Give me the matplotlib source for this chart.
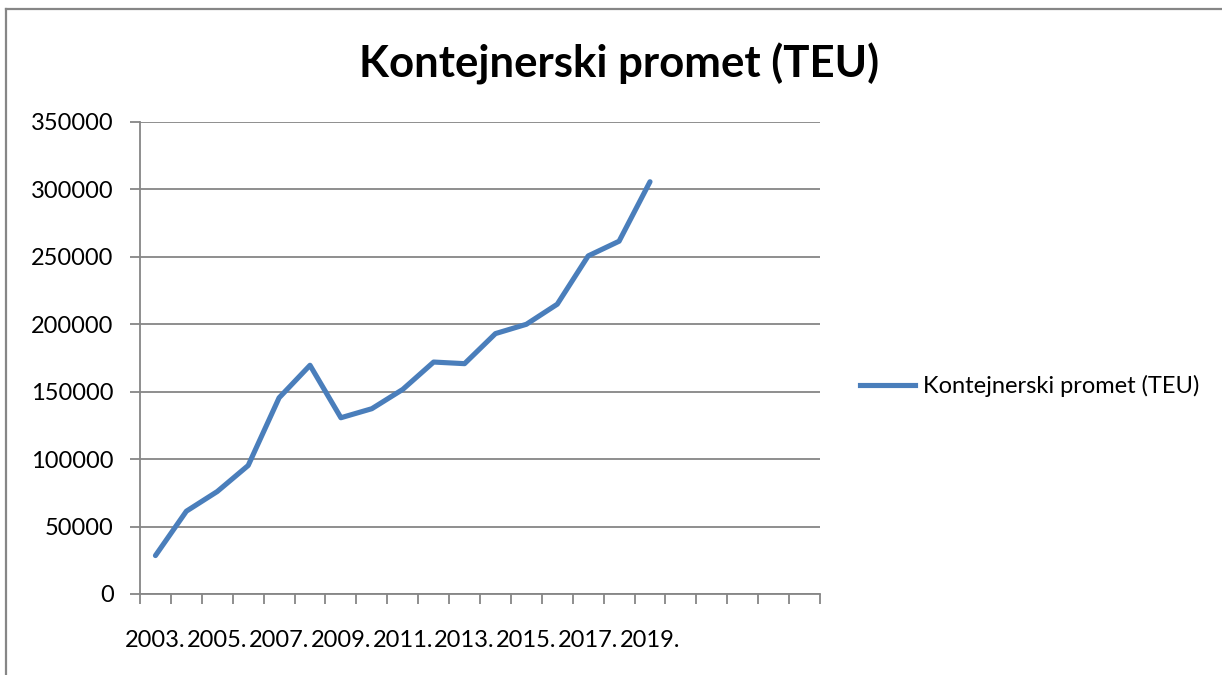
import matplotlib
matplotlib.use("Agg")
import matplotlib.pyplot as plt
from matplotlib.lines import Line2D

years = [str(y) + "." for y in range(2003, 2020)]
n_categories = 22
teu = [28500, 61400, 76000, 95300, 145500, 169600, 130700, 137400, 151700,
       172000, 170800, 193100, 200000, 214900, 250700, 261600, 305700]
series_name = "Kontejnerski promet (TEU)"
title = "Kontejnerski promet (TEU)"
yticks = [0, 50000, 100000, 150000, 200000, 250000, 300000, 350000]

plt.rcParams['font.family'] = ['Lato', 'DejaVu Sans']

fig = plt.figure(figsize=(12.22, 6.75), dpi=100)
ax = fig.add_axes([140/1222, 1-594/675, 680/1222, 472/675])

x = [i + 0.5 for i in range(len(teu))]
line_color = "#4a7ebb"
ax.plot(x, teu, color=line_color, linewidth=3.7, solid_capstyle='round',
        solid_joinstyle='round', label=series_name)

ax.set_xlim(0, n_categories)
ax.set_ylim(0, 350000)
ax.set_yticks(yticks)
ax.set_yticklabels([str(v) for v in yticks], fontsize=17)
ax.yaxis.grid(True, color="#868686", linewidth=1.3)
ax.set_axisbelow(True)

# category ticks at boundaries
ax.set_xticks(range(n_categories + 1))
ax.set_xticklabels([])
ax.set_xticks([i + 0.5 for i in range(0, len(years), 2)], minor=True)
ax.set_xticklabels([years[i] for i in range(0, len(years), 2)], minor=True, fontsize=17)
ax.tick_params(axis='x', which='major', length=7, color="#868686", width=1.3, direction='out')
ax.tick_params(axis='x', which='minor', length=0, pad=26)
ax.tick_params(axis='y', length=7, color="#868686", width=1.3, pad=12)

for side in ['top', 'right']:
    ax.spines[side].set_visible(False)
for side in ['left', 'bottom']:
    ax.spines[side].set_color("#868686")
    ax.spines[side].set_linewidth(1.3)

fig.text(619/1222, 1-64/675, title, fontsize=31.5, fontweight='bold',
         ha='center', va='center')

leg = fig.legend(handles=[Line2D([], [], color=line_color, linewidth=3.7)],
                 labels=[series_name], loc='center left',
                 bbox_to_anchor=(839/1222, 1-386/675), frameon=False,
                 fontsize=17, handlelength=2.3, handletextpad=0.34)

# chart frame
fig.add_artist(Line2D([6/1222, 6/1222], [0, 1-9/675], color="#868686", linewidth=1.6))
fig.add_artist(Line2D([6/1222, 1], [1-9/675, 1-9/675], color="#868686", linewidth=1.6))

fig.savefig("out.png", dpi=100)
